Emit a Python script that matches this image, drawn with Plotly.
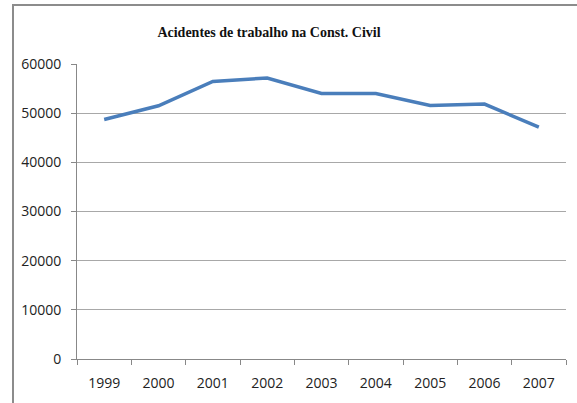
import plotly.graph_objects as go

years = ["1999", "2000", "2001", "2002", "2003", "2004", "2005", "2006", "2007"]
acidentes = [48700, 51500, 56450, 57150, 54000, 54000, 51550, 51850, 47150]
y_ticks = [0, 10000, 20000, 30000, 40000, 50000, 60000]

W, H = 577, 403
L, R, T, B = 77, 566, 64, 359
pw, ph = R - L, B - T

def px(x):
    return (x - L) / pw

def py(y):
    return (B - y) / ph

fig = go.Figure()
fig.add_trace(go.Scatter(
    x=years, y=acidentes, mode="lines",
    line=dict(color="#4a7ebb", width=3.5),
    showlegend=False, hoverinfo="skip",
))

axis_font = dict(family="Open Sans, Liberation Sans, sans-serif", size=14, color="#222222")

fig.update_layout(
    width=W, height=H,
    margin=dict(l=L, r=W - R, t=T, b=H - B, pad=0),
    paper_bgcolor="white", plot_bgcolor="white",
    title=dict(
        text="<b>Acidentes de trabalho na Const. Civil</b>",
        font=dict(family="Liberation Serif, Times New Roman, serif", size=14, color="#111111"),
        x=269 / W, xanchor="center", xref="container",
        y=1 - 32 / H, yanchor="middle", yref="container",
    ),
    xaxis=dict(
        type="category", tickson="boundaries", ticks="outside", ticklen=5,
        tickcolor="#888888", showline=True, linecolor="#888888", linewidth=1,
        showgrid=False, tickfont=axis_font, range=[-0.5, 8.5],
        ticklabelstandoff=11,
    ),
    yaxis=dict(
        range=[0, 60000], tickvals=y_ticks, ticktext=[str(v) for v in y_ticks],
        ticks="outside", ticklen=5, tickcolor="#888888",
        showline=True, linecolor="#888888", linewidth=1,
        showgrid=True, gridcolor="#a8a8a8", gridwidth=1,
        zeroline=False, tickfont=axis_font, ticklabelstandoff=7,
    ),
    shapes=[dict(
        type="path", xref="paper", yref="paper",
        path=f"M {px(13)} {py(H + 5)} L {px(13)} {py(5)} L {px(W + 5)} {py(5)}",
        line=dict(color="#8c8c8c", width=2),
    )],
)

fig.write_html("out.html", config={"displayModeBar": False},
               post_script="document.body.style.margin='0';")
